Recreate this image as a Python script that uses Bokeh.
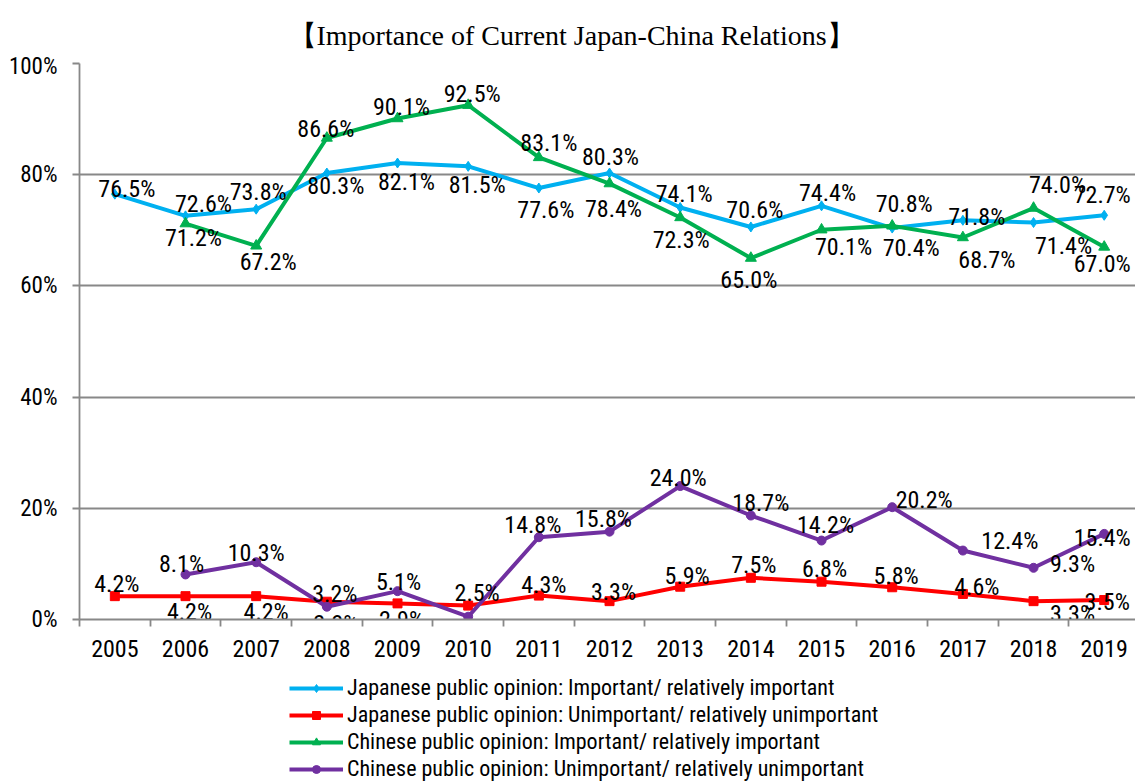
from bokeh.plotting import figure
from bokeh.layouts import column
from bokeh.models import (Range1d, FixedTicker, Legend, LegendItem, ColumnDataSource,
                          PrintfTickFormatter, Label)
from bokeh.core.properties import value
from bokeh.embed import file_html
from bokeh.resources import INLINE

# ---------------- data ----------------
jp_years = [2005, 2006, 2007, 2008, 2009, 2010, 2011, 2012, 2013, 2014, 2015, 2016, 2017, 2018, 2019]
cn_years = [2006, 2007, 2008, 2009, 2010, 2011, 2012, 2013, 2014, 2015, 2016, 2017, 2018, 2019]
jp_important = [76.5, 72.6, 73.8, 80.3, 82.1, 81.5, 77.6, 80.3, 74.1, 70.6, 74.4, 70.4, 71.8, 71.4, 72.7]
jp_unimportant = [4.2, 4.2, 4.2, 3.2, 2.9, 2.5, 4.3, 3.3, 5.9, 7.5, 6.8, 5.8, 4.6, 3.3, 3.5]
cn_important = [71.2, 67.2, 86.6, 90.1, 92.5, 83.1, 78.4, 72.3, 65.0, 70.1, 70.8, 68.7, 74.0, 67.0]
cn_unimportant = [8.1, 10.3, 2.3, 5.1, 0.5, 14.8, 15.8, 24.0, 18.7, 14.2, 20.2, 12.4, 9.3, 15.4]

series_names = [
    "Japanese public opinion: Important/ relatively important",
    "Japanese public opinion: Unimportant/ relatively unimportant",
    "Chinese public opinion: Important/ relatively important",
    "Chinese public opinion: Unimportant/ relatively unimportant",
]
title_text = "\u3010Importance of Current Japan-China Relations\u3011"
y_ticks = [0, 20, 40, 60, 80, 100]

# ---------------- label placement (pixel offsets from each point) ----------------
jp_imp_dx = [12, 18, 2, 9, 9, 9, 7, 1, 4, 4, 6, 19, 14, 30, -2]
jp_imp_dy = [-5, -12, -17, 13, 19, 19, 22, -16, -14, -17, -13, 20, -3, 23, -20]
jp_un_dx = [2, 4, 10, 8, 4, 9, 5, 4, 7, 3, 3, 4, 14, 39, 3]
jp_un_dy = [-12, 16, 16, -8, 17, -13, -11, -9, -11, -13, -13, -11, -7, 13, 2]
cn_imp_dx = [8, 12, -1, 4, 4, 10, 4, 1, -2, 22, 12, 24, 24, -2]
cn_imp_dy = [14, 16, -9, -12, -11, -14, 25, 22, 22, 17, -22, 22, -23, 17]
cn_un_dx = [-4, 0, 9, 1, 20, -6, -6, -2, 10, 4, 32, 47, 39, -2]
cn_un_dy = [-10, -9, 17, -9, 14, -12, -13, -8, -13, -16, -7, -10, -4, 4]

# ---------------- styles ----------------
colors = ["#00B0F0", "#FF0000", "#00B050", "#7030A0"]
markers = ["diamond", "square", "triangle", "circle"]
msizes = [10, 9, 11, 9]
legend_msizes = [8, 8, 9, 8]
grid_color = "#888888"
narrow = "'Noto Sans Condensed', 'Roboto Condensed', 'Open Sans Condensed', 'DejaVu Sans Condensed', 'Liberation Sans', sans-serif"
lab_size = "24px"
W = 1135
LEFT = 79          # plot-area left edge
FRAME_W = W - LEFT  # plot-area width
STEP = 70.67       # px per year
TITLE_H = 52
MAIN_H = 621
LEGEND_H = 110

# ---------------- title strip ----------------
tf = figure(width=W, height=TITLE_H, output_backend="svg", toolbar_location=None, title=None,
            x_range=Range1d(0, FRAME_W), y_range=Range1d(0, TITLE_H),
            x_axis_location=None, y_axis_location=None, min_border=0,
            background_fill_color="white", border_fill_color="white")
tf.outline_line_color = None
tf.xgrid.grid_line_color = None
tf.ygrid.grid_line_color = None
tf.add_layout(Label(x=209, y=TITLE_H - 34.5, text=title_text, text_align="left",
                    text_baseline="alphabetic",
                    text_font="'Liberation Serif', 'Times New Roman', serif",
                    text_font_size="28px", text_color="black"))

# ---------------- main chart ----------------
p = figure(width=W, height=MAIN_H, output_backend="svg", toolbar_location=None, title=None,
           x_range=Range1d(2004.5, 2004.5 + FRAME_W / STEP), y_range=Range1d(0, 100),
           min_border_left=LEFT, min_border_right=0, min_border_top=11, min_border_bottom=54,
           background_fill_color="white", border_fill_color="white")
p.outline_line_color = None

p.yaxis.ticker = FixedTicker(ticks=y_ticks)
p.yaxis.formatter = PrintfTickFormatter(format="%d%%")
p.yaxis.axis_line_color = grid_color
p.yaxis.axis_line_width = 1.8
p.yaxis.major_tick_line_color = grid_color
p.yaxis.major_tick_line_width = 1.8
p.yaxis.major_tick_out = 7
p.yaxis.major_tick_in = 0
p.yaxis.minor_tick_line_color = None
p.yaxis.major_label_standoff = 15
p.yaxis.major_label_text_font = narrow
p.yaxis.major_label_text_font_size = "23px"
p.yaxis.major_label_text_color = "black"

p.xaxis.ticker = FixedTicker(ticks=jp_years, minor_ticks=[y - 0.5 for y in jp_years])
p.xaxis.formatter = PrintfTickFormatter(format="%d")
p.xaxis.axis_line_color = grid_color
p.xaxis.axis_line_width = 1.8
p.xaxis.major_tick_line_color = None
p.xaxis.major_tick_out = 0
p.xaxis.major_tick_in = 0
p.xaxis.minor_tick_line_color = grid_color
p.xaxis.minor_tick_line_width = 1.8
p.xaxis.minor_tick_out = 7
p.xaxis.minor_tick_in = 0
p.xaxis.major_label_standoff = 13
p.xaxis.major_label_text_font = narrow
p.xaxis.major_label_text_font_size = lab_size
p.xaxis.major_label_text_color = "black"

p.xgrid.grid_line_color = None
p.ygrid.grid_line_color = grid_color
p.ygrid.grid_line_width = 1.8

all_series = [
    (jp_years, jp_important, jp_imp_dx, jp_imp_dy),
    (jp_years, jp_unimportant, jp_un_dx, jp_un_dy),
    (cn_years, cn_important, cn_imp_dx, cn_imp_dy),
    (cn_years, cn_unimportant, cn_un_dx, cn_un_dy),
]

sources = []
for i, (xs, ys, dx, dy) in enumerate(all_series):
    src = ColumnDataSource(dict(x=xs, y=ys, lab=["%.1f%%" % v for v in ys], dx=dx, dy=dy))
    sources.append(src)
    p.line("x", "y", source=src, line_color=colors[i], line_width=4)
    p.scatter("x", "y", source=src, marker=markers[i], size=msizes[i],
              fill_color=colors[i], line_color=colors[i])

for src in sources:
    p.text("x", "y", text="lab", source=src, x_offset="dx", y_offset="dy",
           text_align="center", text_baseline="middle",
           text_font=value(narrow), text_font_size=lab_size, text_color="black")

# ---------------- legend strip ----------------
lg = figure(width=W, height=LEGEND_H, output_backend="svg", toolbar_location=None, title=None,
            x_range=Range1d(0, 1), y_range=Range1d(-1, 0),
            x_axis_location=None, y_axis_location=None,
            min_border=0, background_fill_color="white", border_fill_color="white")
lg.outline_line_color = None
lg.xgrid.grid_line_color = None
lg.ygrid.grid_line_color = None
items = []
for i, src in enumerate(sources):
    # same series data; it lies outside this strip's ranges, so only the legend keys show
    ln = lg.line("x", "y", source=src, line_color=colors[i], line_width=4)
    mk = lg.scatter("x", "y", source=src, marker=markers[i], size=legend_msizes[i],
                    fill_color=colors[i], line_color=colors[i])
    items.append(LegendItem(label=series_names[i], renderers=[ln, mk], index=0))

legend = Legend(items=items, location=(210, 2), orientation="vertical",
                label_text_font=narrow, label_text_font_size="22px", label_text_color="black",
                glyph_width=54, glyph_height=20, label_height=20, label_standoff=4, spacing=2,
                padding=0, margin=0, border_line_color=None, background_fill_alpha=0)
lg.add_layout(legend, "center")

open("out.html", "w").write(file_html(column(tf, p, lg, spacing=0), INLINE))
